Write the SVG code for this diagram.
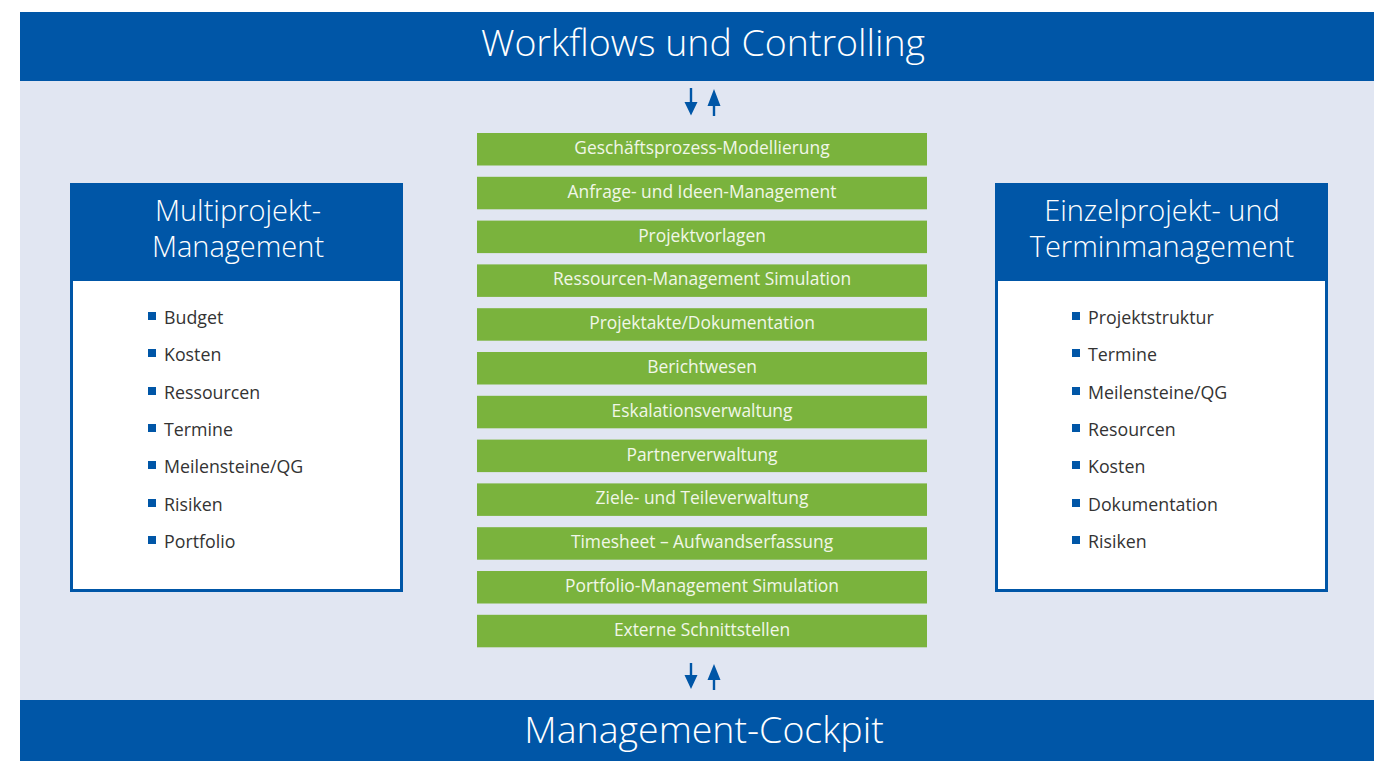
<svg xmlns="http://www.w3.org/2000/svg" width="1374" height="761" viewBox="0 0 1374 761">
<defs>
<style>
.bar{fill:#0056A7}
.title{font-family:"Open Sans","Liberation Sans",sans-serif;font-weight:300;fill:#fff;text-anchor:middle}
.big{font-size:37.5px}
.head{font-size:29px}
.g{fill:#7AB33D}
.gt{font-family:"Open Sans","Liberation Sans",sans-serif;font-weight:400;font-size:17.4px;fill:#F1F7E8;text-anchor:middle}
.li{font-family:"Open Sans","Liberation Sans",sans-serif;font-size:17.8px;fill:#333}
.bul{fill:#0056A7}
.arr{fill:#0056A7}
</style>
</defs>
<rect x="0" y="0" width="1374" height="761" fill="#fff"/>
<rect x="20" y="81" width="1354" height="620" fill="#E1E6F2"/>
<g id="top-bar">
<rect class="bar" x="20" y="12" width="1354" height="69"/>
<text class="title big" x="703" y="56">Workflows und Controlling</text>
</g>
<g id="bottom-bar">
<rect class="bar" x="20" y="700" width="1354" height="61"/>
<text class="title big" x="704" y="743">Management-Cockpit</text>
</g>
<g id="connectors">
<path class="arr" d="M689.8 88h2.4v14h5.3l-6.5 13.5l-6.5-13.5h5.3z"/>
<path class="arr" d="M712.8 116h2.4v-10h5.3l-6.5-17l-6.5 17h5.3z"/>
<path class="arr" d="M689.8 663h2.4v12h5.3l-6.5 14l-6.5-14h5.3z"/>
<path class="arr" d="M712.8 690h2.4v-10h5.3l-6.5-16l-6.5 16h5.3z"/>
</g>
<g id="multiprojekt">
<rect x="71.5" y="184.5" width="330" height="406" fill="#fff" stroke="#0056A7" stroke-width="3"/>
<rect class="bar" x="70" y="183" width="333" height="98"/>
<text class="title head" x="238" y="221">Multiprojekt-</text>
<text class="title head" x="238" y="257">Management</text>
<rect class="bul" x="148" y="312" width="8" height="8"/><text class="li" x="164" y="324">Budget</text>
<rect class="bul" x="148" y="349" width="8" height="8"/><text class="li" x="164" y="361">Kosten</text>
<rect class="bul" x="148" y="387" width="8" height="8"/><text class="li" x="164" y="399">Ressourcen</text>
<rect class="bul" x="148" y="424" width="8" height="8"/><text class="li" x="164" y="436">Termine</text>
<rect class="bul" x="148" y="461" width="8" height="8"/><text class="li" x="164" y="473">Meilensteine/QG</text>
<rect class="bul" x="148" y="499" width="8" height="8"/><text class="li" x="164" y="511">Risiken</text>
<rect class="bul" x="148" y="536" width="8" height="8"/><text class="li" x="164" y="548">Portfolio</text>
</g>
<g id="einzelprojekt">
<rect x="996.5" y="184.5" width="330" height="406" fill="#fff" stroke="#0056A7" stroke-width="3"/>
<rect class="bar" x="995" y="183" width="333" height="98"/>
<text class="title head" x="1162" y="221">Einzelprojekt- und</text>
<text class="title head" x="1162" y="257">Terminmanagement</text>
<rect class="bul" x="1072" y="312" width="8" height="8"/><text class="li" x="1088" y="324">Projektstruktur</text>
<rect class="bul" x="1072" y="349" width="8" height="8"/><text class="li" x="1088" y="361">Termine</text>
<rect class="bul" x="1072" y="387" width="8" height="8"/><text class="li" x="1088" y="399">Meilensteine/QG</text>
<rect class="bul" x="1072" y="424" width="8" height="8"/><text class="li" x="1088" y="436">Resourcen</text>
<rect class="bul" x="1072" y="461" width="8" height="8"/><text class="li" x="1088" y="473">Kosten</text>
<rect class="bul" x="1072" y="499" width="8" height="8"/><text class="li" x="1088" y="511">Dokumentation</text>
<rect class="bul" x="1072" y="536" width="8" height="8"/><text class="li" x="1088" y="548">Risiken</text>
</g>
<g id="module-1"><rect class="g" x="477" y="133" width="450" height="32.5"/><text class="gt" x="702" y="154">Geschäftsprozess-Modellierung</text></g>
<g id="module-2"><rect class="g" x="477" y="176.8" width="450" height="32.5"/><text class="gt" x="702" y="197.8">Anfrage- und Ideen-Management</text></g>
<g id="module-3"><rect class="g" x="477" y="220.6" width="450" height="32.5"/><text class="gt" x="702" y="241.6">Projektvorlagen</text></g>
<g id="module-4"><rect class="g" x="477" y="264.4" width="450" height="32.5"/><text class="gt" x="702" y="285.4">Ressourcen-Management Simulation</text></g>
<g id="module-5"><rect class="g" x="477" y="308.2" width="450" height="32.5"/><text class="gt" x="702" y="329.2">Projektakte/Dokumentation</text></g>
<g id="module-6"><rect class="g" x="477" y="352" width="450" height="32.5"/><text class="gt" x="702" y="373">Berichtwesen</text></g>
<g id="module-7"><rect class="g" x="477" y="395.8" width="450" height="32.5"/><text class="gt" x="702" y="416.8">Eskalationsverwaltung</text></g>
<g id="module-8"><rect class="g" x="477" y="439.6" width="450" height="32.5"/><text class="gt" x="702" y="460.6">Partnerverwaltung</text></g>
<g id="module-9"><rect class="g" x="477" y="483.4" width="450" height="32.5"/><text class="gt" x="702" y="504.4">Ziele- und Teileverwaltung</text></g>
<g id="module-10"><rect class="g" x="477" y="527.2" width="450" height="32.5"/><text class="gt" x="702" y="548.2">Timesheet – Aufwandserfassung</text></g>
<g id="module-11"><rect class="g" x="477" y="571" width="450" height="32.5"/><text class="gt" x="702" y="592">Portfolio-Management Simulation</text></g>
<g id="module-12"><rect class="g" x="477" y="614.8" width="450" height="32.5"/><text class="gt" x="702" y="635.8">Externe Schnittstellen</text></g>
</svg>
